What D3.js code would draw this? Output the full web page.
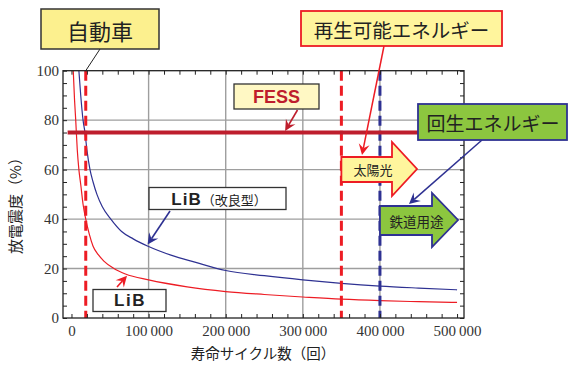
<!DOCTYPE html>
<html>
<head>
<meta charset="utf-8">
<script src="https://cdn.jsdelivr.net/npm/d3@7"></script>
<style>
  html, body { margin: 0; padding: 0; background: #fff; }
  svg { display: block; }
</style>
</head>
<body>
<svg id="chart" width="572" height="367"></svg>
<script>
// Cycle life vs. depth of discharge
const xTickValues = [0, 100000, 200000, 300000, 400000, 500000];
const yTickValues = [0, 20, 40, 60, 80, 100];

// LiB (standard)
const libCycles = [2300, 4000, 5500, 7500, 9600, 12000, 15000, 18500, 23000, 28000, 35000, 42000, 55000, 70000, 100000, 150000, 200000, 250000, 300000, 350000, 400000, 450000, 500000];
const libValues = [100, 88, 80, 68, 60, 54, 46, 40, 34, 29, 25.5, 23, 20, 17.8, 15.4, 12.6, 10.7, 9.5, 8.5, 7.6, 7.0, 6.6, 6.3];

// LiB (improved)
const libImpCycles = [9600, 12000, 15000, 17500, 20000, 24000, 28000, 33000, 40000, 51000, 65000, 80000, 100000, 130000, 160000, 200000, 250000, 300000, 350000, 400000, 450000, 500000];
const libImpValues = [100, 90, 80, 75, 68, 60, 55, 50, 45, 40, 35, 32, 28.9, 25.3, 22.6, 19.2, 17.1, 15.4, 14.0, 12.9, 12.1, 11.4];

// Reference levels
const fessLevel = 75;
const carCycles = 18500;
const solarCycles = 350000;
const railCycles = 400000;

const svg = d3.select("#chart");
const pLeft = 63, pRight = 464, pTop = 70.7, pBottom = 318;

const x = d3.scaleLinear().domain([-11000, 509000]).range([pLeft, pRight]);
const y = d3.scaleLinear().domain([0, 100]).range([pBottom, pTop]);

const serif = "'Liberation Serif', 'Times New Roman', serif";
const cjk = "'Noto Sans CJK JP', 'Noto Sans', sans-serif";
const sans = "'Liberation Sans', Arial, sans-serif";

const RED = "#ED1C24", DARKRED = "#BE1E2D", BLUE = "#2E3192";

svg.append("defs").append("clipPath").attr("id", "plot")
  .append("rect").attr("x", pLeft).attr("y", pTop).attr("width", pRight - pLeft).attr("height", pBottom - pTop);

// grid
const grid = svg.append("g").attr("stroke", "#9E9E9E").attr("stroke-width", 1.4);
[100000, 200000, 300000, 400000].forEach(v =>
  grid.append("line").attr("x1", x(v)).attr("x2", x(v)).attr("y1", pTop).attr("y2", pBottom));
[20, 40, 60, 80].forEach(v =>
  grid.append("line").attr("x1", pLeft).attr("x2", pRight).attr("y1", y(v)).attr("y2", y(v)));

// curves
const line = d3.line().x(d => x(d[0])).y(d => y(d[1])).curve(d3.curveMonotoneX);
const plotG = svg.append("g").attr("clip-path", "url(#plot)");
plotG.append("path").datum(d3.zip(libCycles, libValues))
  .attr("d", line).attr("fill", "none").attr("stroke", RED).attr("stroke-width", 1.2);
plotG.append("path").datum(d3.zip(libImpCycles, libImpValues))
  .attr("d", line).attr("fill", "none").attr("stroke", BLUE).attr("stroke-width", 1.2);

// dashed vertical markers
[[carCycles, RED], [solarCycles, RED], [railCycles, BLUE]].forEach(([c, col]) => {
  svg.append("line").attr("x1", x(c)).attr("x2", x(c)).attr("y1", pTop).attr("y2", pBottom)
    .attr("stroke", col).attr("stroke-width", 3).attr("stroke-dasharray", "10,5");
});

// FESS level
svg.append("line").attr("x1", x(-5000)).attr("x2", pRight).attr("y1", y(fessLevel)).attr("y2", y(fessLevel))
  .attr("stroke", DARKRED).attr("stroke-width", 4);

// axes: inward minor ticks on every side
const xMinor = d3.range(0, 500001, 20000);
const yMinor = d3.range(0, 101, 5);
function styleAxis(g) {
  g.select(".domain").remove();
  g.selectAll(".tick line").attr("stroke", "#222").attr("stroke-width", 1);
  g.selectAll("text").remove();
}
svg.append("g").attr("transform", `translate(0,${pBottom})`)
  .call(d3.axisBottom(x).tickValues(xMinor).tickSize(-4)).call(styleAxis);
svg.append("g").attr("transform", `translate(0,${pTop})`)
  .call(d3.axisTop(x).tickValues(xMinor).tickSize(-4)).call(styleAxis);
svg.append("g").attr("transform", `translate(${pLeft},0)`)
  .call(d3.axisLeft(y).tickValues(yMinor).tickSize(-4)).call(styleAxis);
svg.append("g").attr("transform", `translate(${pRight},0)`)
  .call(d3.axisRight(y).tickValues(yMinor).tickSize(-4)).call(styleAxis);

svg.append("rect").attr("x", pLeft).attr("y", pTop).attr("width", pRight - pLeft).attr("height", pBottom - pTop)
  .attr("fill", "none").attr("stroke", "#222").attr("stroke-width", 1.3);

// tick labels
const fmt = d3.formatLocale({decimal: ".", thousands: "\u2009", grouping: [3], currency: ["", ""]}).format(",");
const xl = svg.append("g").attr("transform", `translate(0,${pBottom})`)
  .call(d3.axisBottom(x).tickValues(xTickValues).tickSize(0).tickPadding(7).tickFormat(fmt));
xl.select(".domain").remove();
xl.selectAll("text").attr("font-family", serif).attr("font-size", 15).attr("fill", "#333");

const yl = svg.append("g").attr("transform", `translate(${pLeft},0)`)
  .call(d3.axisLeft(y).tickValues(yTickValues).tickSize(0).tickPadding(4));
yl.select(".domain").remove();
yl.selectAll("text").attr("font-family", serif).attr("font-size", 15).attr("fill", "#333");

// axis titles
svg.append("text").attr("x", 263).attr("y", 359).attr("text-anchor", "middle")
  .attr("font-family", cjk).attr("font-size", 14.5).attr("fill", "#222").text("寿命サイクル数（回）");
svg.append("text").attr("transform", "translate(21,202) rotate(-90)").attr("text-anchor", "middle")
  .attr("font-family", cjk).attr("font-size", 15).attr("fill", "#222").text("放電震度（%）");

// arrow helper with a swept-back head
function arrow(x1, y1, x2, y2, col, w) {
  const g = svg.append("g");
  const a = Math.atan2(y2 - y1, x2 - x1);
  const L = 11, W = 5.5, back = 7;
  const bx = x2 - back * Math.cos(a), by = y2 - back * Math.sin(a);
  g.append("line").attr("x1", x1).attr("y1", y1).attr("x2", bx).attr("y2", by)
    .attr("stroke", col).attr("stroke-width", w);
  const p = (d, s) => [x2 - d * Math.cos(a) - s * Math.sin(a), y2 - d * Math.sin(a) + s * Math.cos(a)];
  const pts = [[x2, y2], p(L, W), [bx, by], p(L, -W)];
  g.append("path").attr("d", "M" + pts.map(q => q.join(",")).join("L") + "Z").attr("fill", col);
}

function box(x0, y0, w, h, fill, stroke, sw) {
  svg.append("rect").attr("x", x0).attr("y", y0).attr("width", w).attr("height", h)
    .attr("fill", fill).attr("stroke", stroke).attr("stroke-width", sw);
}
function label(cx, cy, txt, size, col, fam, weight) {
  return svg.append("text").attr("x", cx).attr("y", cy).attr("text-anchor", "middle")
    .attr("dominant-baseline", "central").attr("font-family", fam).attr("font-size", size)
    .attr("font-weight", weight || "normal").attr("fill", col).text(txt);
}

// 自動車
svg.append("line").attr("x1", 100).attr("y1", 49).attr("x2", x(carCycles)).attr("y2", pTop)
  .attr("stroke", "#222").attr("stroke-width", 1);
box(41, 9, 118, 40, "#FCF08E", "#333", 1.5);
label(100, 29.5, "自動車", 22, "#222", cjk);

// FESS
arrow(297.5, 110, x(277000), y(fessLevel) - 1.5, DARKRED, 1.6);
box(234, 84, 85, 25, "#FFF8C4", "#333", 1.3);
label(276.5, 97, "FESS", 18, DARKRED, sans, "bold");

// 再生可能エネルギー
arrow(384, 46, 362, 155, RED, 1.5);
box(301, 11, 201, 35, "#FFF59D", RED, 1.8);
label(401.5, 29, "再生可能エネルギー", 19.5, "#222", cjk);

// 回生エネルギー
arrow(482, 140, 409, 204, BLUE, 1.5);
box(418, 104, 149, 36, "#8CC63F", BLUE, 1.8);
label(493, 122.5, "回生エネルギー", 19, "#222", cjk);

// block arrows
function blockArrow(x0, bodyTop, bodyBot, headX, headTop, headBot, tipX, fill, stroke) {
  const mid = (headTop + headBot) / 2;
  const d = `M${x0},${bodyTop}L${headX},${bodyTop}L${headX},${headTop}L${tipX},${mid}L${headX},${headBot}L${headX},${bodyBot}L${x0},${bodyBot}Z`;
  svg.append("path").attr("d", d).attr("fill", fill).attr("stroke", stroke).attr("stroke-width", 1.8)
    .attr("stroke-linejoin", "miter");
}
blockArrow(x(solarCycles), 157, 182, 392, 142, 196, 417, "#FFF59D", RED);
label(373, 169.5, "太陽光", 13, "#222", cjk);
blockArrow(x(railCycles), 206, 235, 432, 193, 247, 458, "#8CC63F", BLUE);
label(416.5, 220.5, "鉄道用途", 13.5, "#222", cjk);

// LiB (改良型)
arrow(170, 211, x(100000) - 1, y(28.9) - 2, BLUE, 1.6);
box(149, 187.5, 137, 22, "#fff", "#333", 1.3);
const t1 = svg.append("text").attr("x", 219).attr("y", 198.5).attr("text-anchor", "middle")
  .attr("dominant-baseline", "central");
t1.append("tspan").attr("font-family", sans).attr("font-weight", "bold").attr("font-size", 17)
  .attr("letter-spacing", 1).attr("fill", "#222").text("LiB");
t1.append("tspan").attr("font-family", cjk).attr("font-size", 13).attr("fill", "#222").text("（改良型）");

// LiB
arrow(117, 287, x(72000), y(17.5) + 1, RED, 1.6);
box(93, 289.5, 73, 22, "#fff", "#333", 1.3);
label(130, 300.5, "LiB", 17, "#222", sans, "bold").attr("letter-spacing", 1.5);
</script>
</body>
</html>
